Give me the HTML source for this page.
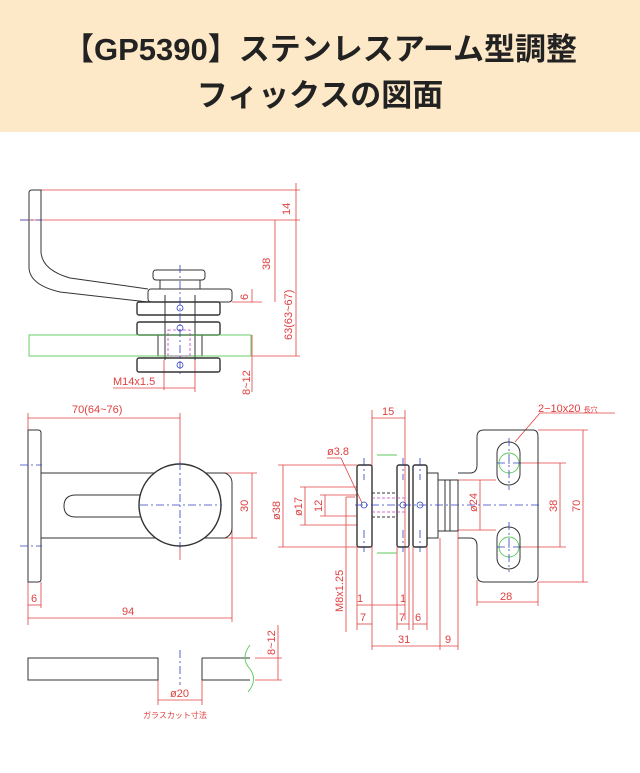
<!DOCTYPE html>
<html><head><meta charset="utf-8"><style>
body{margin:0;width:640px;height:773px;background:#fff;overflow:hidden}
.hd{position:absolute;left:0;top:0;width:640px;height:132px;background:#fde8c8}
.t{position:absolute;left:0;width:640px;text-align:center;font-family:"Liberation Sans","Noto Sans CJK JP",sans-serif;font-weight:bold;font-size:31px;color:#222}
svg{position:absolute;left:0;top:0}
</style></head><body>
<div class="hd"></div>
<div class="t" style="top:24px">【GP5390】ステンレスアーム型調整</div>
<div class="t" style="top:70px">フィックスの図面</div>
<svg width="640" height="773" font-family="Liberation Sans, Noto Sans CJK JP, sans-serif">
<g fill="none" stroke="#e04040" stroke-width="0.8">
<line x1="41" y1="190" x2="300" y2="190"/><line x1="20" y1="220" x2="300" y2="220"/>
<line x1="296" y1="183" x2="296" y2="356"/><line x1="275" y1="220" x2="275" y2="302"/>
<line x1="232" y1="302" x2="262" y2="302"/><line x1="252" y1="289" x2="252" y2="302"/>
<line x1="252" y1="356" x2="300" y2="356"/><line x1="252" y1="335" x2="252" y2="392"/>
<line x1="113" y1="388" x2="195" y2="388"/><line x1="164" y1="360" x2="164" y2="390"/><line x1="195" y1="360" x2="195" y2="392"/>
<line x1="28" y1="418" x2="180" y2="418"/><line x1="180" y1="413" x2="180" y2="560"/>
<line x1="28" y1="413" x2="28" y2="625"/>
<line x1="220" y1="473" x2="257" y2="473"/><line x1="220" y1="538" x2="257" y2="538"/><line x1="252" y1="473" x2="252" y2="538"/>
<line x1="232" y1="525" x2="232" y2="622"/><line x1="28" y1="618" x2="232" y2="618"/>
<line x1="41" y1="582" x2="41" y2="608"/><line x1="28" y1="605" x2="41" y2="605"/>
<line x1="255" y1="658" x2="282" y2="658"/><line x1="255" y1="680" x2="282" y2="680"/><line x1="278" y1="625" x2="278" y2="680"/>
<line x1="158" y1="680" x2="158" y2="705"/><line x1="202" y1="680" x2="202" y2="705"/><line x1="158" y1="700" x2="202" y2="700"/>
<line x1="372" y1="410" x2="372" y2="650"/><line x1="405" y1="410" x2="405" y2="620"/><line x1="372" y1="418" x2="405" y2="418"/>
<line x1="278" y1="465" x2="357" y2="465"/><line x1="278" y1="547" x2="357" y2="547"/><line x1="283" y1="465" x2="283" y2="547"/>
<line x1="300" y1="487" x2="357" y2="487"/><line x1="300" y1="525" x2="357" y2="525"/><line x1="305" y1="487" x2="305" y2="525"/>
<line x1="320" y1="495" x2="357" y2="495"/><line x1="320" y1="516" x2="357" y2="516"/><line x1="325" y1="495" x2="325" y2="516"/>
<line x1="346" y1="497" x2="346" y2="632"/><line x1="355" y1="497" x2="346" y2="497"/>
<line x1="341" y1="458" x2="362" y2="503"/><line x1="327" y1="458" x2="341" y2="458"/>
<line x1="458" y1="480" x2="496" y2="480"/><line x1="458" y1="530" x2="496" y2="530"/><line x1="480" y1="480" x2="480" y2="530"/>
<line x1="520" y1="463" x2="566" y2="463"/><line x1="520" y1="547" x2="566" y2="547"/><line x1="560" y1="463" x2="560" y2="547"/>
<line x1="538" y1="430" x2="588" y2="430"/><line x1="538" y1="582" x2="588" y2="582"/><line x1="583" y1="430" x2="583" y2="582"/>
<line x1="477" y1="580" x2="477" y2="606"/><line x1="538" y1="582" x2="538" y2="606"/><line x1="477" y1="602" x2="538" y2="602"/>
<line x1="357" y1="547" x2="357" y2="630"/><line x1="397" y1="547" x2="397" y2="630"/><line x1="409" y1="547" x2="409" y2="630"/>
<line x1="413" y1="547" x2="413" y2="630"/><line x1="427" y1="547" x2="427" y2="630"/>
<line x1="357" y1="624" x2="372" y2="624"/><line x1="397" y1="624" x2="409" y2="624"/><line x1="413" y1="624" x2="427" y2="624"/>
<line x1="357" y1="605" x2="405" y2="605"/>
<line x1="440" y1="538" x2="440" y2="650"/><line x1="458" y1="530" x2="458" y2="650"/>
<line x1="372" y1="646" x2="440" y2="646"/><line x1="440" y1="646" x2="458" y2="646"/>
<line x1="515" y1="442" x2="540" y2="413"/><line x1="540" y1="413" x2="615" y2="413"/>
</g>
<g fill="#e04040" font-size="11">
<text x="290" y="215" transform="rotate(-90 290 215)">14</text>
<text x="270" y="270" transform="rotate(-90 270 270)">38</text>
<text x="248" y="300" transform="rotate(-90 248 300)">6</text>
<text x="292" y="340" transform="rotate(-90 292 340)">63(63~67)</text>
<text x="250" y="395" transform="rotate(-90 250 395)">8~12</text>
<text x="113" y="385">M14x1.5</text>
<text x="72" y="413">70(64~76)</text>
<text x="248" y="512" transform="rotate(-90 248 512)">30</text>
<text x="31" y="602">6</text>
<text x="122" y="615">94</text>
<text x="275" y="655" transform="rotate(-90 275 655)">8~12</text>
<text x="170" y="697">ø20</text>
<text x="143" y="718" font-size="8">ガラスカット寸法</text>
<text x="382" y="415">15</text>
<text x="327" y="455">ø3.8</text>
<text x="280" y="520" transform="rotate(-90 280 520)">ø38</text>
<text x="302" y="516" transform="rotate(-90 302 516)">ø17</text>
<text x="322" y="512" transform="rotate(-90 322 512)">12</text>
<text x="343" y="612" transform="rotate(-90 343 612)">M8x1.25</text>
<text x="477" y="512" transform="rotate(-90 477 512)">ø24</text>
<text x="557" y="512" transform="rotate(-90 557 512)">38</text>
<text x="580" y="512" transform="rotate(-90 580 512)">70</text>
<text x="538" y="412">2−10x20 <tspan font-size="7">長穴</tspan></text>
<text x="500" y="600">28</text>
<text x="357" y="602">1</text><text x="400" y="602">1</text>
<text x="360" y="621">7</text><text x="399" y="621">7</text><text x="415" y="621">6</text>
<text x="398" y="643">31</text><text x="445" y="643">9</text>
</g>
<g fill="none" stroke="#333" stroke-width="1">
<path d="M29 193 Q29 190 32 190 L41 190 L41 252 Q42 270 70 278 L148 289 M29 193 L29 268 Q30 285 60 292 L148 302"/>
<rect x="148" y="289" width="84" height="13" rx="3"/>
<rect x="160" y="280" width="40" height="9"/><rect x="153" y="270" width="52" height="10" rx="3"/>
<rect x="137" y="302" width="83" height="13" rx="2" stroke-width="1.4"/>
<rect x="137" y="322" width="83" height="13" rx="2" stroke-width="1.4"/>
<rect x="137" y="358" width="83" height="14" rx="2" stroke-width="1.4"/>
<rect x="158" y="335" width="44" height="21"/>
<line x1="165" y1="295" x2="165" y2="360"/><line x1="195" y1="295" x2="195" y2="360"/>
<path d="M28 430 L38 430 Q41 430 41 433 L41 579 Q41 582 38 582 L28 582 Z"/>
<path d="M41 473 L225 473 Q232 476 232 483 L232 528 Q232 535 225 538 L41 538"/>
<path d="M140 495 L76 495 Q64 495 64 506 Q64 517 76 517 L140 517"/>
<circle cx="180" cy="505" r="41" fill="#fff" stroke-width="1.4"/>
<path d="M28 658 L158 658 L158 680 L28 680 Z M202 658 L250 658 M202 680 L250 680 M202 658 L202 680"/>
<rect x="357" y="465" width="15" height="82" rx="2" stroke-width="1.4"/>
<rect x="397" y="465" width="12" height="82" rx="2" stroke-width="1.4"/>
<rect x="413" y="465" width="14" height="82" rx="2" stroke-width="1.4"/>
<rect x="427" y="473" width="11" height="65"/>
<rect x="438" y="480" width="20" height="51"/>
<line x1="445" y1="480" x2="445" y2="531"/><line x1="450" y1="480" x2="450" y2="531"/>
<path d="M458 473 L470 473 Q477 473 477 465 L477 437 Q477 430 484 430 L533 430 Q538 430 538 437 L538 575 Q538 582 533 582 L484 582 Q477 582 477 575 L477 546 Q477 538 470 538 L458 538"/>
<rect x="497" y="442" width="23" height="43" rx="11"/>
<rect x="497" y="527" width="23" height="42" rx="11"/>
<line x1="372" y1="493" x2="397" y2="493" stroke-dasharray="3 2"/><line x1="372" y1="517" x2="397" y2="517" stroke-dasharray="3 2"/>
</g>
<g fill="none" stroke="#5bc85b" stroke-width="0.9">
<rect x="29" y="335" width="222" height="21"/>
<path d="M250 645 Q240 658 250 669 Q258 680 248 692"/>
<line x1="377" y1="455" x2="397" y2="455"/><line x1="377" y1="553" x2="397" y2="553"/>
<circle cx="509" cy="463" r="10"/><circle cx="509" cy="547" r="10"/>
</g>
<g fill="none" stroke="#c040c0" stroke-width="0.8" stroke-dasharray="3 2">
<rect x="168" y="330" width="22" height="26"/><line x1="372" y1="498" x2="405" y2="498"/><line x1="372" y1="512" x2="405" y2="512"/>
</g>
<g fill="none" stroke="#3040c0" stroke-width="0.8" stroke-dasharray="8 3 2 3">
<line x1="180" y1="265" x2="180" y2="376"/><line x1="140" y1="505" x2="222" y2="505"/><line x1="180" y1="462" x2="180" y2="548"/>
<line x1="180" y1="650" x2="180" y2="685"/>
<line x1="355" y1="505" x2="540" y2="505"/><line x1="509" y1="438" x2="509" y2="490"/><line x1="509" y1="522" x2="509" y2="572"/>
<line x1="497" y1="463" x2="522" y2="463"/><line x1="497" y1="547" x2="522" y2="547"/>
<line x1="20" y1="220" x2="42" y2="220"/><line x1="20" y1="465" x2="42" y2="465"/><line x1="20" y1="546" x2="42" y2="546"/>
<line x1="364" y1="458" x2="364" y2="480"/><line x1="364" y1="530" x2="364" y2="552"/><line x1="403" y1="458" x2="403" y2="480"/><line x1="403" y1="530" x2="403" y2="552"/><line x1="420" y1="458" x2="420" y2="480"/><line x1="420" y1="530" x2="420" y2="552"/>
</g>
<g fill="none" stroke="#3040c0" stroke-width="0.8"><circle cx="180" cy="308" r="3"/><circle cx="180" cy="328" r="3"/><circle cx="180" cy="365" r="3"/><circle cx="364" cy="505" r="3"/><circle cx="403" cy="505" r="3"/><circle cx="420" cy="505" r="3"/></g>
</svg>
</body></html>
